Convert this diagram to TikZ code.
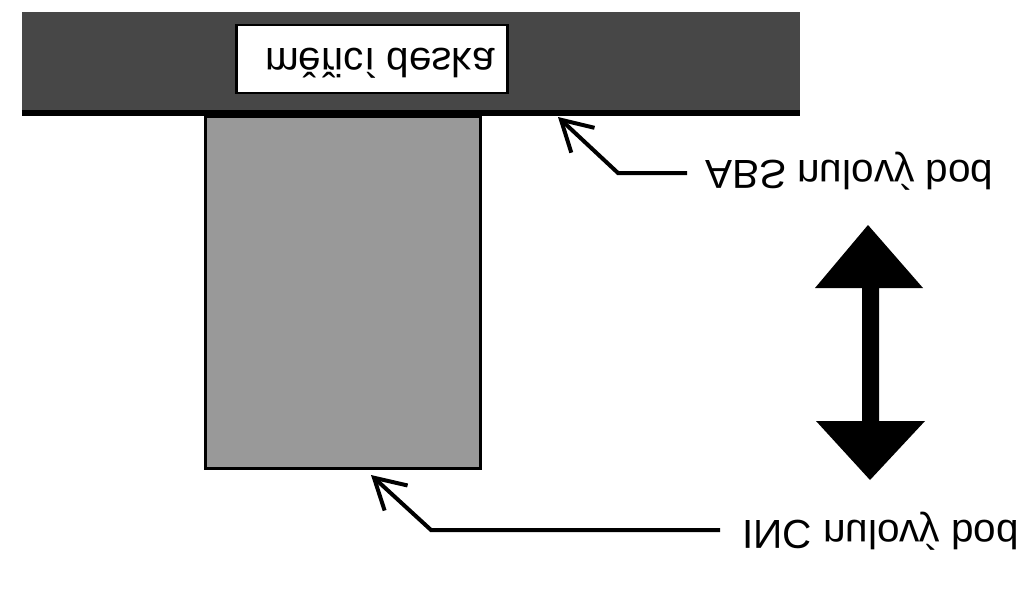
\documentclass[tikz,border=0pt]{standalone}
\usepackage{fontspec}
\setmainfont{Liberation Sans}
\usepackage{graphicx}
\usetikzlibrary{arrows.meta}
\newcommand{\flipv}[1]{\scalebox{1}[-1]{#1}}
\tikzset{
  plate/.style={rectangle, inner sep=0pt, fill=black!72},
  labelbox/.style={rectangle, inner sep=0pt, fill=white, draw=black, line width=2.5pt},
  block/.style={rectangle, inner sep=0pt, fill=black!40, draw=black, line width=3pt},
  caption/.style={inner sep=0pt, font=\fontsize{40.5}{46}\selectfont},
  pointer/.style={line width=4pt, -{Straight Barb[length=30pt,width=34pt,line width=4pt]}}
}
\begin{document}
\begin{tikzpicture}[x=1pt,y=-1pt]
\useasboundingbox (0,0) rectangle (1023,597);
% plate
\node[plate, minimum width=778pt, minimum height=104pt] (bar) at (411,64) {};
\draw[line width=6pt] ([yshift=3pt]bar.south west) -- ([yshift=3pt]bar.south east);
% label on plate
\node[labelbox, minimum width=271pt, minimum height=68pt] (lbl) at (372,59) {};
\node[caption, anchor=base] (lbltxt) at (380,48) {\flipv{měřicí deska}};
% block
\node[block, minimum width=275pt, minimum height=352pt] (blk) at (342.5,292) {};
% captions
\node[caption, anchor=base west] (abs) at (705,160) {\flipv{ABS nulový bod}};
\node[caption, anchor=base west] (inc) at (742,520) {\flipv{INC nulový bod}};
% pointer coordinates
\coordinate (absEnd) at (687,173);
\coordinate (absElb) at (618,173);
\coordinate (absTip) at (558,117);
\coordinate (incEnd) at (720,530);
\coordinate (incElb) at (431,530);
\coordinate (incTip) at (371,475);
\draw[pointer] (absEnd) -- (absElb) -- (absTip);
\draw[pointer] (incEnd) -- (incElb) -- (incTip);
% double arrow
\fill[black] (868,225) -- (923,288) -- (879,288) -- (879,421) -- (925,421) -- (870,480)
  -- (816,421) -- (862,421) -- (862,288) -- (815,288) -- cycle;
\end{tikzpicture}
\end{document}
